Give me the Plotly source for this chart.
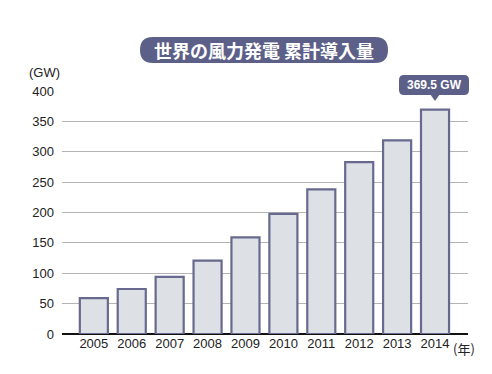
import plotly.graph_objects as go

years = ["2005", "2006", "2007", "2008", "2009", "2010", "2011", "2012", "2013", "2014"]
capacity_gw = [59.1, 74.1, 93.9, 120.7, 159.0, 197.9, 238.1, 282.8, 318.6, 369.5]
y_ticks = [0, 50, 100, 150, 200, 250, 300, 350, 400]
title_text = "世界の風力発電 累計導入量"
callout_text = "369.5 GW"

W, H = 492, 374
L, R, T, B = 62, 468, 91, 334
PW, PH = R - L, B - T

def px(x):
    return (x - L) / PW

def py(y):
    return (B - y) / PH

def rounded_rect(x0, y0, x1, y1, r):
    return (f"M {px(x0 + r)},{py(y0)} L {px(x1 - r)},{py(y0)} "
            f"Q {px(x1)},{py(y0)} {px(x1)},{py(y0 + r)} "
            f"L {px(x1)},{py(y1 - r)} Q {px(x1)},{py(y1)} {px(x1 - r)},{py(y1)} "
            f"L {px(x0 + r)},{py(y1)} Q {px(x0)},{py(y1)} {px(x0)},{py(y1 - r)} "
            f"L {px(x0)},{py(y0 + r)} Q {px(x0)},{py(y0)} {px(x0 + r)},{py(y0)} Z")

accent = "#5c6088"

fig = go.Figure()
fig.add_trace(go.Bar(
    x=list(range(len(years))), y=capacity_gw,
    width=0.74,
    marker=dict(color="#dde1e5", line=dict(color="#676a8e", width=2.2)),
    hoverinfo="skip",
))

shapes = [
    dict(type="path", xref="paper", yref="paper",
         path=rounded_rect(140, 37, 388, 63, 13),
         fillcolor=accent, line=dict(width=0)),
    dict(type="path", xref="paper", yref="paper",
         path=rounded_rect(399, 75, 469, 95, 5),
         fillcolor=accent, line=dict(width=0)),
    dict(type="path", xref="paper", yref="paper",
         path=f"M {px(430)},{py(94)} L {px(440)},{py(94)} L {px(435)},{py(101)} Z",
         fillcolor=accent, line=dict(width=0)),
]

annotations = [
    dict(text=f"<b>{title_text}</b>", xref="paper", yref="paper",
         x=px(264), y=py(50), showarrow=False, xanchor="center", yanchor="middle",
         font=dict(family="Noto Sans CJK JP", size=18, color="white")),
    dict(text=f"<b>{callout_text}</b>", xref="paper", yref="paper",
         x=px(434), y=py(85), showarrow=False, xanchor="center", yanchor="middle",
         font=dict(family="Liberation Sans, Arial", size=12, color="white")),
    dict(text="(GW)", xref="paper", yref="paper",
         x=px(62), y=py(73), showarrow=False, xanchor="right", yanchor="middle",
         font=dict(family="Liberation Sans, Arial", size=13, color="#222")),
    dict(text="(年)", xref="paper", yref="paper",
         x=px(451), y=py(348), showarrow=False, xanchor="left", yanchor="middle",
         font=dict(family="Noto Sans CJK JP", size=13, color="#222")),
]

fig.update_layout(
    width=W, height=H,
    margin=dict(l=L, r=W - R, t=T, b=H - B, pad=0, autoexpand=False),
    paper_bgcolor="white", plot_bgcolor="white",
    showlegend=False,
    shapes=shapes, annotations=annotations,
    font=dict(family="Liberation Sans, Arial", size=13, color="#222"),
    xaxis=dict(
        range=[-0.84, 9.87],
        tickmode="array", tickvals=list(range(len(years))), ticktext=years,
        showgrid=False, zeroline=False, showline=False, ticks="",
        tickfont=dict(size=13, color="#222"),
    ),
    yaxis=dict(
        range=[0, 400], tickmode="array", tickvals=y_ticks,
        showgrid=True, gridcolor="#b4b4b4", gridwidth=1,
        zeroline=True, zerolinecolor="#111", zerolinewidth=2,
        showline=False, ticks="", ticklabelstandoff=7,
        tickfont=dict(size=13, color="#222"),
    ),
    bargap=0.26,
)

fig.write_html("out.html", config={"displayModeBar": False},
               post_script="document.body.style.margin='0';document.body.style.padding='0';")
